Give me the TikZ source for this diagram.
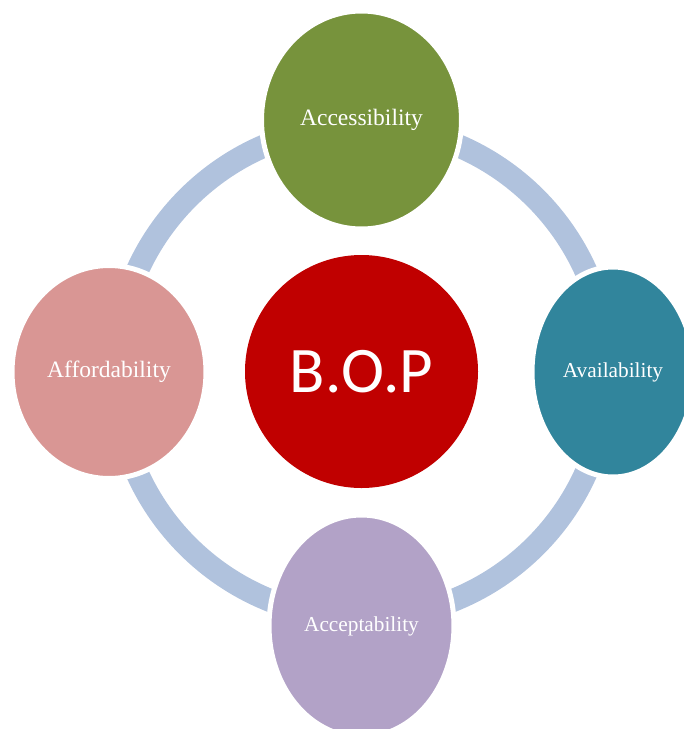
\documentclass[tikz,border=0pt]{standalone}
\usepackage{fontspec}
\setmainfont{Liberation Serif}
\newfontfamily\bopfont{Carlito}
\usetikzlibrary{shapes.geometric}
\definecolor{ringblue}{HTML}{B0C2DD}
\definecolor{accgreen}{HTML}{77933C}
\definecolor{avateal}{HTML}{31859C}
\definecolor{acclav}{HTML}{B2A2C7}
\definecolor{affpink}{HTML}{D99694}
\definecolor{bopred}{HTML}{C00000}
\tikzset{
  petal/.style={ellipse, draw=white, line width=5pt, inner sep=0pt,
    text=white},
  bigtext/.style={font=\fontsize{23.5}{26}\selectfont},
  smalltext/.style={font=\fontsize{21.3}{24}\selectfont},
  hub/.style={circle, fill=bopred, inner sep=0pt, minimum size=233pt,
    text=white, font=\bopfont\fontsize{65}{70}\selectfont},
}
\begin{document}
\begin{tikzpicture}[x=1pt,y=-1pt]
  \useasboundingbox (0,0) rectangle (684,729);
  \clip (0,0) rectangle (684,729);
  % connecting ring
  \draw[ringblue, line width=23pt] (361.5,372) circle[radius=246];
  % outer items
  \node[petal, bigtext, fill=accgreen, minimum width=200pt, minimum height=218pt]
    (acc) at (361.5,120) {Accessibility};
  \node[petal, smalltext, fill=avateal, minimum width=162pt, minimum height=210pt]
    (ava) at (613,372) {Availability};
  \node[petal, smalltext, fill=acclav, minimum width=185pt, minimum height=222pt]
    (acp) at (361.5,626) {Acceptability};
  \node[petal, bigtext, fill=affpink, minimum width=194pt, minimum height=213pt]
    (aff) at (109,372) {Affordability};
  % centre
  \node[hub] (bop) at (361.5,371.5) {B.O.P};
\end{tikzpicture}
\end{document}
